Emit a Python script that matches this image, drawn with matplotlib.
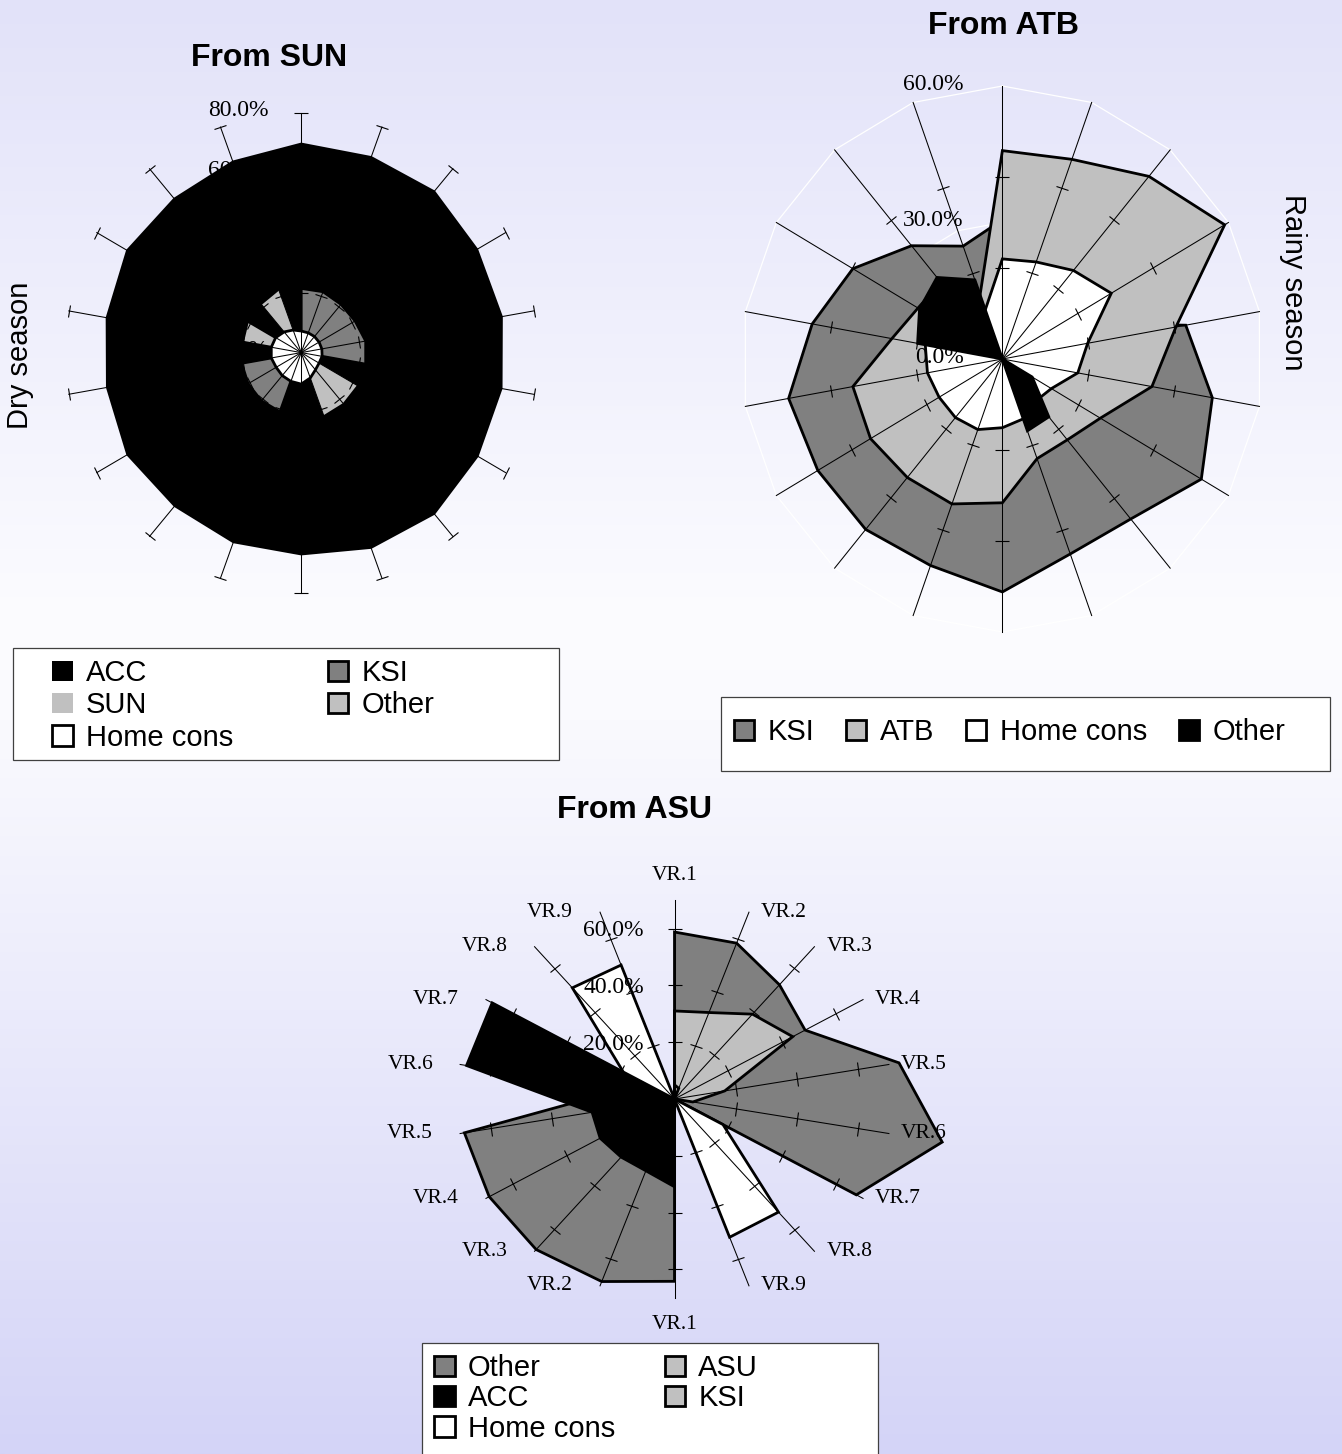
import numpy as np
import matplotlib
matplotlib.use("Agg")
import matplotlib.pyplot as plt
from matplotlib.markers import MarkerStyle
from matplotlib.transforms import Affine2D
from matplotlib.patches import Rectangle

plt.rcParams['font.family'] = ['Liberation Sans', 'DejaVu Sans']

# ---------------- data ----------------
n_cat = 18
cat_angles = np.arange(n_cat) * 20.0          # degrees, clockwise from top

# Panel "From SUN" (Dry season)
sun_acc   = [70.0, 69.7, 70.5, 69.2, 69.4, 69.3, 69.4, 70.5, 69.6, 67.6, 67.6, 67.1, 68.4, 67.2, 67.3, 68.5, 67.3, 68.1]
sun_ksi   = [21.4, 21.6, 21.0, 21.1, 22.2, 22.2, 0, 0, 0, 0, 21.0, 21.0, 20.8, 20.5, 0, 0, 0, 0]
sun_sun   = [0, 0, 0, 0, 0, 0, 21.8, 22.0, 22.2, 0, 0, 0, 0, 0, 0, 0, 20.8, 22.0]
sun_other = [0, 0, 0, 0, 0, 0, 0, 0, 0, 0, 0, 0, 0, 0, 20.2, 21.0, 0, 0]
sun_home  = [7.2, 7.0, 7.0, 7.0, 7.1, 7.2, 7.0, 7.5, 9.0, 10.5, 10.2, 10.0, 9.8, 10.3, 10.3, 10.0, 9.0, 8.0]
sun_axis_values = [0, 20, 40, 60, 80]
sun_axis_labels = ['0.0%', '20.0%', '40.0%', '60.0%', '80.0%']

# Panel "From ATB" (Rainy season)
atb_ksi   = [30.6, 26.0, 20.0, 15.7, 42.8, 49.0, 52.8, 45.9, 45.6, 51.2, 48.3, 48.9, 49.0, 49.9, 44.4, 39.7, 32.5, 26.4]
atb_atb   = [45.8, 46.7, 52.4, 59.0, 40.5, 34.9, 26.0, 23.2, 23.3, 31.6, 33.9, 34.0, 35.0, 34.9, 25.8, 22.4, 22.0, 15.0]
atb_home  = [22.0, 22.7, 25.4, 28.9, 19.9, 17.6, 13.0, 12.0, 14.0, 15.1, 16.5, 16.8, 16.8, 17.5, 18.0, 21.0, 20.0, 11.5]
atb_other = [0, 0, 0, 0, 0, 0, 7.9, 16.6, 16.8, 0, 0, 0, 0, 0, 19.8, 22.0, 23.4, 18.5]
atb_axis_values = [0, 30, 60]
atb_axis_labels = ['0.0%', '30.0%', '60.0%']

# Panel "From ASU"
asu_categories = ['VR.1', 'VR.2', 'VR.3', 'VR.4', 'VR.5', 'VR.6', 'VR.7', 'VR.8', 'VR.9',
                  'VR.1', 'VR.2', 'VR.3', 'VR.4', 'VR.5', 'VR.6', 'VR.7', 'VR.8', 'VR.9']
asu_other = [58.8, 58.4, 52.5, 48.5, 73.3, 87.4, 67.5, 0, 0, 64.2, 68.4, 69.2, 68.8, 68.6, 18.0, 0, 0, 0]
asu_asu   = [31.0, 32.4, 39.0, 43.9, 16.4, 6.0, 0, 0, 0, 0, 0, 0, 0, 0, 0, 0, 0, 0]
asu_acc   = [0, 0, 0, 0, 0, 0, 0, 0, 0, 30.9, 26.9, 26.7, 27.6, 26.9, 67.9, 67.7, 0, 0]
asu_ksi   = [5.0, 4.0, 0, 0, 0, 0, 0, 0, 0, 0, 0, 0, 0, 0, 0, 0, 0, 0]
asu_home  = [0, 0, 0, 0, 0, 0, 18.0, 52.0, 51.8, 0, 0, 0, 0, 0, 0, 19.0, 51.1, 50.2]
asu_axis_values = [20, 40, 60]
asu_axis_labels = ['20.0%', '40.0%', '60.0%']

# ---------------- styling ----------------
W, H, DPI = 1342, 1454, 100
PT = 72.0 / DPI
BLACK, DARK, LIGHT, WHITE = '#000000', '#808080', '#C0C0C0', '#FFFFFF'
SERIF = ['Liberation Serif', 'DejaVu Serif']

fig = plt.figure(figsize=(W / DPI, H / DPI), dpi=DPI)

# background gradient
ys = np.arange(H)
ny = [0, 620, 720, H - 1]
rc = np.interp(ys, ny, [226, 252, 250, 212])
bc = np.interp(ys, ny, [249, 255, 254, 247])
img = np.stack([rc, rc, bc], axis=-1)[:, None, :] / 255.0
bg = fig.add_axes([0, 0, 1, 1], zorder=-10)
bg.imshow(img, aspect='auto', extent=[0, 1, 0, 1], interpolation='bilinear')
bg.set_axis_off()

theta = np.deg2rad(cat_angles)
theta_c = np.append(theta, theta[0])


def make_polar(cx, cy, kx, ky, rlim):
    hw, hh = rlim * kx, rlim * ky
    ax = fig.add_axes([(cx - hw) / W, 1 - (cy + hh) / H, 2 * hw / W, 2 * hh / H],
                      projection='polar')
    ax.set_aspect('auto')
    ax.set_theta_zero_location('N')
    ax.set_theta_direction(-1)
    ax.set_ylim(0, rlim)
    ax.set_axis_off()
    return ax


def draw_panel(ax, kx, ky, series, spoke_len, tick_r, grid_r, axis_vals, axis_labels, lab_off):
    for g in grid_r:
        ax.plot(theta_c, [g] * (n_cat + 1), color='white', lw=0.9, zorder=1, clip_on=False)
    handles = {}
    for z, (name, vals, fc, ec) in enumerate(series):
        v = np.append(vals, vals[0])
        poly = ax.fill(theta_c, v, facecolor=fc, edgecolor=ec, linewidth=2.0,
                       joinstyle='miter', zorder=2 + z, clip_on=False, label=name)[0]
        handles[name] = poly
    for t, ang in zip(theta, cat_angles):
        ax.plot([t, t], [0, spoke_len], color='black', lw=0.75, zorder=20, clip_on=False)
        phi = np.degrees(np.arctan2(ky * np.cos(t), kx * np.sin(t)))
        m = MarkerStyle('_', transform=Affine2D().rotate_deg(phi + 90))
        ax.plot([t] * len(tick_r), tick_r, linestyle='none', marker=m, markersize=9.5,
                markeredgewidth=0.8, color='black', zorder=21, clip_on=False)
    for v, lbl in zip(axis_vals, axis_labels):
        ax.annotate(lbl, xy=(0, v), xytext=(lab_off[0] * PT, lab_off[1] * PT),
                    textcoords='offset points', ha='right', va='baseline', fontsize=17,
                    family=SERIF, color='black', zorder=30, annotation_clip=False)
    return handles


def add_legend(handles, labels, ncol, x_first, y_top, colspacing, lspacing, box):
    x0, y0, x1, y1 = box
    fig.patches.append(Rectangle((x0 / W, 1 - y1 / H), (x1 - x0) / W, (y1 - y0) / H,
                                 transform=fig.transFigure, facecolor='white',
                                 edgecolor='#404040', lw=0.9, zorder=1))
    fig.legend(handles, labels, loc='upper left', bbox_to_anchor=(x_first / W, 1 - y_top / H),
               bbox_transform=fig.transFigure, ncol=ncol, frameon=False, fontsize=21,
               handlelength=0.7, handleheight=0.7, handletextpad=0.45, labelspacing=lspacing,
               columnspacing=colspacing, borderpad=0, borderaxespad=0)


# ---------- SUN ----------
kx, ky = 2.95, 3.0
ax1 = make_polar(301.2, 352.6, kx, ky, 82)
h1 = draw_panel(ax1, kx, ky,
                [('ACC', sun_acc, BLACK, 'none'),
                 ('KSI', sun_ksi, DARK, BLACK),
                 ('SUN', sun_sun, LIGHT, 'none'),
                 ('Other', sun_other, LIGHT, BLACK),
                 ('Home cons', sun_home, WHITE, BLACK)],
                80, [20, 40, 60, 80], [], sun_axis_values, sun_axis_labels, (-33, -3.4))
order = ['ACC', 'SUN', 'Home cons', 'KSI', 'Other']
add_legend([h1[k] for k in order], order, 2, 52.4, 659, 3.25, 0.15, (12.6, 648.3, 558.7, 760))

# ---------- ATB ----------
kx, ky = 4.35, 4.55
ax2 = make_polar(1002.4, 359, kx, ky, 62)
h2 = draw_panel(ax2, kx, ky,
                [('KSI', atb_ksi, DARK, BLACK),
                 ('ATB', atb_atb, LIGHT, BLACK),
                 ('Home cons', atb_home, WHITE, BLACK),
                 ('Other', atb_other, BLACK, BLACK)],
                60, [20, 40], [30, 60], atb_axis_values, atb_axis_labels, (-38.6, -3.6))
order = ['KSI', 'ATB', 'Home cons', 'Other']
add_legend([h2[k] for k in order], order, 4, 733.6, 718, 1.1, 0.15, (721.3, 697.3, 1329.8, 770.7))

# ---------- ASU ----------
kx, ky = 3.11, 2.84
ax3 = make_polar(674.5, 1099, kx, ky, 90)
h3 = draw_panel(ax3, kx, ky,
                [('Other', asu_other, DARK, BLACK),
                 ('ASU', asu_asu, LIGHT, BLACK),
                 ('ACC', asu_acc, BLACK, BLACK),
                 ('KSI', asu_ksi, LIGHT, BLACK),
                 ('Home cons', asu_home, WHITE, BLACK)],
                70, [20, 40, 60], [], asu_axis_values, asu_axis_labels, (-30.5, -7.5))
for t, lab in zip(theta, asu_categories):
    s, c = np.sin(t), np.cos(t)
    if abs(s) < 0.05:
        if c > 0:
            ha, va, off = 'center', 'baseline', (0, 20)
        else:
            ha, va, off = 'center', 'top', (0, -17)
    elif s > 0:
        ha, va, off = 'left', 'center', (12, 0)
    else:
        ha, va, off = 'right', 'center', (-27, 0)
    ax3.annotate(lab, xy=(t, 70), xytext=(off[0] * PT, off[1] * PT), textcoords='offset points',
                 ha=ha, va=va, fontsize=15.5, family=SERIF, color='black',
                 zorder=30, annotation_clip=False)
order = ['Other', 'ACC', 'Home cons', 'ASU', 'KSI']
add_legend([h3[k] for k in order], order, 2, 434.3, 1354, 1.7, 0.08, (422.3, 1343.3, 878.3, 1470))

# ---------- titles and side labels ----------
fig.text(269 / W, 1 - 66.5 / H, 'From SUN', ha='center', va='baseline', fontsize=23, weight='bold')
fig.text(1003.5 / W, 1 - 33.5 / H, 'From ATB', ha='center', va='baseline', fontsize=23, weight='bold')
fig.text(634.5 / W, 1 - 818.3 / H, 'From ASU', ha='center', va='baseline', fontsize=23, weight='bold')
fig.text(20 / W, 1 - 355.5 / H, 'Dry season', ha='center', va='center', rotation=90, fontsize=21)
fig.text(1293 / W, 1 - 282 / H, 'Rainy season', ha='center', va='center', rotation=-90, fontsize=21)

fig.savefig('out.png', dpi=DPI)
